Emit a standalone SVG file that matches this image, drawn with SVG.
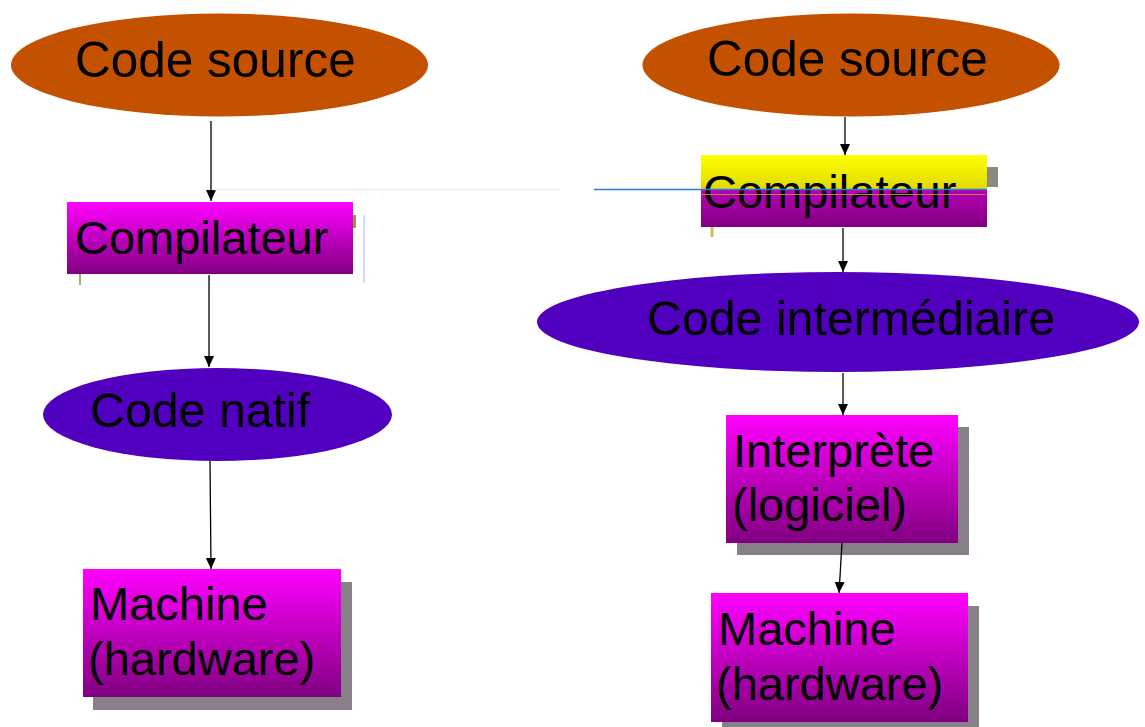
<svg xmlns="http://www.w3.org/2000/svg" width="1145" height="727" viewBox="0 0 1145 727">
  <style>
    .lbl { font-family: "Liberation Sans", Arial, sans-serif; font-size: 47px; fill: #000; }
    .big { font-size: 49.5px; }
    .wide { font-size: 48.3px; }
    .src { fill: #C45100; }
    .mid { fill: #5000BE; }
    .box { fill: url(#boxGrad); }
    .shadow { fill: #888088; }
    .conn { stroke: #000; stroke-width: 1.3; fill: none; marker-end: url(#arrow); }
  </style>
  <defs>
    <linearGradient id="boxGrad" x1="0" y1="0" x2="0" y2="1">
      <stop offset="0" stop-color="#FF00FF"/>
      <stop offset="1" stop-color="#800080"/>
    </linearGradient>
    <linearGradient id="yellowGrad" x1="0" y1="0" x2="0" y2="1">
      <stop offset="0" stop-color="#FFFF00"/>
      <stop offset="1" stop-color="#E0D800"/>
    </linearGradient>
    <linearGradient id="lowerGrad" x1="0" y1="0" x2="0" y2="1">
      <stop offset="0" stop-color="#B800B8"/>
      <stop offset="1" stop-color="#800080"/>
    </linearGradient>
    <marker id="arrow" markerUnits="userSpaceOnUse" markerWidth="12" markerHeight="12" viewBox="0 0 12 12" refX="11" refY="6" orient="auto">
      <path d="M0,1 L11,6 L0,11 Z" fill="#000"/>
    </marker>
  </defs>

  <!-- left chain: native compilation -->
  <g id="src-left">
    <ellipse class="src" cx="219.5" cy="65" rx="208.5" ry="51.5"/>
    <text class="lbl big" x="75" y="77">Code source</text>
  </g>

  <g id="comp-left">
    <rect class="box" x="67" y="202" width="286" height="72"/>
    <rect x="353" y="215" width="3" height="13" fill="#A09040"/>
    <line x1="80" y1="274" x2="80" y2="285" stroke="#B0A870" stroke-width="2"/>
    <line x1="364" y1="215" x2="364" y2="283" stroke="#C8D0FF" stroke-width="1.5"/>
    <text class="lbl" x="75" y="254">Compilateur</text>
  </g>

  <g id="native">
    <ellipse class="mid" cx="217.5" cy="414.5" rx="174.5" ry="46.5"/>
    <text class="lbl wide" x="90" y="427">Code natif</text>
  </g>

  <g id="hw-left">
    <rect class="shadow" x="93" y="582" width="259" height="128"/>
    <rect class="box" x="83" y="569" width="258" height="128"/>
    <text class="lbl" x="90" y="620">Machine</text>
    <text class="lbl" x="88" y="675">(hardware)</text>
  </g>

  <!-- right chain: bytecode + interpreter -->
  <g id="src-right">
    <ellipse class="src" cx="851" cy="65" rx="208.5" ry="51.5"/>
    <text class="lbl big" x="707" y="76">Code source</text>
  </g>

  <g id="comp-right">
    <rect x="987" y="167" width="11" height="20" fill="#8C8880"/>
    <rect fill="url(#yellowGrad)" x="701" y="155" width="286" height="35"/>
    <rect fill="url(#lowerGrad)" x="701" y="190" width="286" height="37"/>
    <line x1="712" y1="227" x2="712" y2="237" stroke="#C8C060" stroke-width="3"/>
    <text class="lbl" x="703" y="208">Compilateur</text>
  </g>

  <g id="bytecode">
    <ellipse class="mid" cx="838" cy="322" rx="301" ry="50"/>
    <text class="lbl wide" x="647" y="335">Code intermédiaire</text>
  </g>

  <g id="interp">
    <rect class="shadow" x="737" y="427" width="232" height="128"/>
    <rect class="box" x="726" y="415" width="232" height="128"/>
    <text class="lbl" x="733" y="467">Interprète</text>
    <text class="lbl" x="732" y="521">(logiciel)</text>
  </g>

  <g id="hw-right">
    <rect class="shadow" x="722" y="606" width="257" height="125"/>
    <rect class="box" x="711" y="593" width="257" height="129"/>
    <text class="lbl" x="718" y="645">Machine</text>
    <text class="lbl" x="716" y="700">(hardware)</text>
  </g>

  <!-- connectors -->
  <g id="connectors">
    <path class="conn" d="M211,121 L211,201"/>
    <path class="conn" d="M209,275 L209,367"/>
    <path class="conn" d="M210,461 L211,569"/>
    <path class="conn" d="M845,117 L845,155"/>
    <path class="conn" d="M843,228 L843,272"/>
    <path class="conn" d="M843,373 L843,415"/>
    <path class="conn" d="M842,543 L839,593"/>
    <!-- stray guide lines across the compiler row -->
    <line x1="213" y1="189.5" x2="560" y2="189.5" stroke="#EDEDED" stroke-width="1.5"/>
    <line x1="594" y1="189.5" x2="987" y2="189.5" stroke="#2A7DE0" stroke-width="1.3"/>
    <line x1="701" y1="194.5" x2="985" y2="194.5" stroke="#A09040" stroke-width="1"/>
  </g>
</svg>
